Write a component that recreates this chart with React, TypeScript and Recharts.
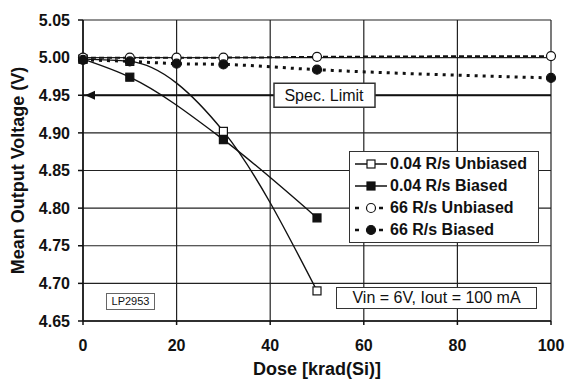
import {
  LineChart,
  Line,
  XAxis,
  YAxis,
  CartesianGrid,
  Legend,
  ReferenceLine,
} from "recharts";

const doses = [0, 10, 20, 30, 50, 100];
const slowUnbiased = [4.998, 4.995, null, 4.902, 4.69, null];
const slowBiased = [4.998, 4.974, null, 4.891, 4.787, null];
const fastUnbiased = [5.0, 5.0, 5.0, 5.0, 5.001, 5.002];
const fastBiased = [4.997, 4.995, 4.992, 4.991, 4.984, 4.973];

const xTicks = [0, 20, 40, 60, 80, 100];
const yTicks = [4.65, 4.7, 4.75, 4.8, 4.85, 4.9, 4.95, 5.0, 5.05];
const SPEC_LIMIT = 4.95;

const data = doses.map((d, i) => ({
  dose: d,
  slowUnbiased: slowUnbiased[i],
  slowBiased: slowBiased[i],
  fastUnbiased: fastUnbiased[i],
  fastBiased: fastBiased[i],
}));

const FONT = "'Liberation Sans', Arial, sans-serif";
const INK = "#111";

const series = [
  { key: "slowUnbiased", name: "0.04 R/s Unbiased", marker: "openSquare", dash: undefined, width: 1.4 },
  { key: "slowBiased", name: "0.04 R/s Biased", marker: "square", dash: undefined, width: 1.4 },
  { key: "fastUnbiased", name: "66 R/s Unbiased", marker: "openCircle", dash: "5 3", width: 2 },
  { key: "fastBiased", name: "66 R/s Biased", marker: "circle", dash: "3 5", width: 3 },
];

function marker(kind: string, cx: number, cy: number, key?: any) {
  if (kind === "openSquare" || kind === "square")
    return (
      <rect key={key} x={cx - 4} y={cy - 4} width={8} height={8}
        fill={kind === "square" ? INK : "#fff"} stroke={INK} strokeWidth={1.2} />
    );
  return (
    <circle key={key} cx={cx} cy={cy} r={4.5}
      fill={kind === "circle" ? INK : "#fff"} stroke={INK} strokeWidth={1.2} />
  );
}

const dotFor = (kind: string) => (p: any) => {
  if (p.cy == null || p.value == null) return <g key={p.key} />;
  return marker(kind, p.cx, p.cy, p.key);
};

const LegendBox = () => (
  <div style={{ border: "1.5px solid #333", background: "#fff", padding: "1px 4px", fontFamily: FONT }}>
    {series.map((s) => (
      <div key={s.key} style={{ display: "flex", alignItems: "center", height: 22 }}>
        <svg width={34} height={14}>
          <line x1={1} x2={33} y1={7} y2={7} stroke={INK} strokeWidth={s.dash ? 2.5 : 1.5}
            strokeDasharray={s.dash ? "4 8" : undefined} />
          {marker(s.marker, 17, 7)}
        </svg>
        <span style={{ fontWeight: "bold", fontSize: 16, color: INK, marginLeft: 2 }}>{s.name}</span>
      </div>
    ))}
  </div>
);

const SpecLabel = (props: any) => {
  const { x, y } = props.viewBox;
  return (
    <g>
      <polygon points={`${x + 2},${y} ${x + 12},${y - 4.5} ${x + 12},${y + 4.5}`} fill={INK} />
      <rect x={x + 191} y={y - 12} width={101} height={24} fill="#fff" stroke="#333" strokeWidth={1.5} />
      <text x={x + 241} y={y + 5.5} textAnchor="middle" fontSize={16} fontFamily={FONT} fill={INK}>
        Spec. Limit
      </text>
    </g>
  );
};

export default function App() {
  return (
    <div style={{ position: "absolute", left: 0, top: 0, width: 568, height: 381, background: "#fff" }}>
      <LineChart width={568} height={381} data={data} margin={{ top: 20, right: 17, bottom: 0, left: 0 }}>
        <CartesianGrid stroke="#222" strokeWidth={1.2} />
        <XAxis
          dataKey="dose"
          type="number"
          domain={[0, 100]}
          ticks={xTicks}
          height={60}
          stroke={INK}
          strokeWidth={1.5}
          tickSize={4}
          tickMargin={15}
          tick={{ fill: INK, fontSize: 16, fontWeight: "bold", fontFamily: FONT }}
          label={{
            value: "Dose [krad(Si)]",
            position: "insideBottom",
            offset: 6,
            fill: INK,
            fontSize: 18,
            fontWeight: "bold",
            fontFamily: FONT,
          }}
        />
        <YAxis
          type="number"
          domain={[4.65, 5.05]}
          ticks={yTicks}
          width={83}
          stroke={INK}
          strokeWidth={1.5}
          tickSize={5}
          tickMargin={8}
          tickFormatter={(v: number) => v.toFixed(2)}
          tick={{ fill: INK, fontSize: 16, fontWeight: "bold", fontFamily: FONT }}
          label={{
            value: "Mean Output Voltage (V)",
            angle: -90,
            position: "insideLeft",
            offset: 18,
            style: { textAnchor: "middle" },
            fill: INK,
            fontSize: 18,
            fontWeight: "bold",
            fontFamily: FONT,
          }}
        />
        <ReferenceLine y={SPEC_LIMIT} stroke={INK} strokeWidth={2.2} label={SpecLabel} />
        {series.map((s) => (
          <Line
            key={s.key}
            dataKey={s.key}
            name={s.name}
            type="monotone"
            stroke={INK}
            strokeWidth={s.width}
            strokeDasharray={s.dash}
            connectNulls
            dot={dotFor(s.marker)}
            isAnimationActive={false}
          />
        ))}
        <Legend
          layout="vertical"
          align="center"
          verticalAlign="middle"
          wrapperStyle={{ left: 349, top: 151, width: 190 }}
          content={LegendBox}
        />
      </LineChart>
      <div style={{ position: "absolute", left: 336, top: 287, width: 199, height: 20, border: "1.5px solid #333",
        background: "#fff", fontFamily: FONT, fontSize: 16, color: INK, textAlign: "center", lineHeight: "20px" }}>
        Vin = 6V, Iout = 100 mA
      </div>
      <div style={{ position: "absolute", left: 106, top: 293, width: 47, height: 15, border: "1.5px solid #666",
        background: "#fff", fontFamily: FONT, fontSize: 11, color: INK, textAlign: "center", lineHeight: "15px" }}>
        LP2953
      </div>
    </div>
  );
}
